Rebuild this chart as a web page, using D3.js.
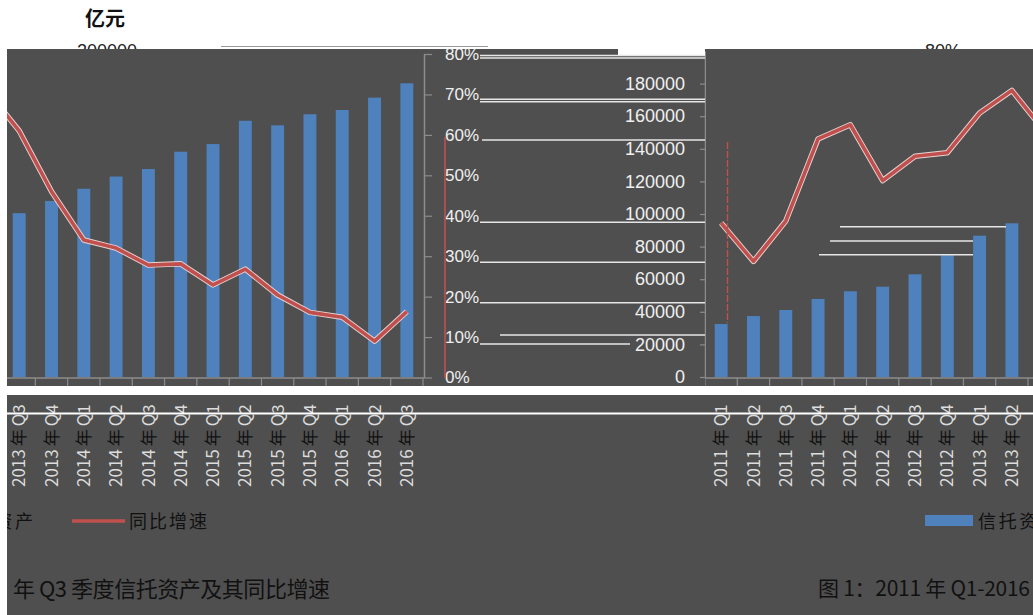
<!DOCTYPE html>
<html><head><meta charset="utf-8">
<script src="https://cdn.jsdelivr.net/npm/d3@7"></script>
<style>body{margin:0;background:#fff;} svg{display:block;font-family:"Noto Sans CJK SC","Noto Sans",sans-serif;}</style>
</head><body><svg id="c" width="1033" height="615"></svg>
<script>
// ---- data ----
const categories = ["2011年Q1","2011年Q2","2011年Q3","2011年Q4","2012年Q1","2012年Q2","2012年Q3","2012年Q4",
  "2013年Q1","2013年Q2","2013年Q3","2013年Q4","2014年Q1","2014年Q2","2014年Q3","2014年Q4",
  "2015年Q1","2015年Q2","2015年Q3","2015年Q4","2016年Q1","2016年Q2","2016年Q3"];
const assets = [32500, 37400, 41100, 47900, 52600, 55400, 63000, 74700, 86700, 94300,
  100500, 108000, 115500, 123000, 127600, 138200, 142900, 157200, 154400, 161200, 163800, 171400, 180200];
const growth = [38.2, 28.7, 38.7, 59.0, 62.5, 48.7, 54.7, 55.6, 65.4, 71.0,
  61.0, 46.0, 34.0, 32.0, 27.8, 28.1, 22.9, 26.8, 20.4, 16.1, 14.9, 9.0, 16.3];
const valueTicks = [0, 20000, 40000, 60000, 80000, 100000, 120000, 140000, 160000, 180000, 200000];
const pctTicks = [0, 0.1, 0.2, 0.3, 0.4, 0.5, 0.6, 0.7, 0.8];
const legendLabels = ["信托资产", "同比增速"];
const titleParts = ["图 1：2011 年 Q1-2016", "年 Q3 季度信托资产及其同比增速"];
const unitLabel = "亿元";

// ---- setup ----
const W = 1033, H = 615, WRAP = 1025, TOP = 49;
const BAR = "#4f81bd", RED = "#c0504d", BG = "#4f4f4f", AX = "#8c8c8c", LT = "#f0f0f0";
const svg = d3.select("#c");
svg.append("rect").attr("width", W).attr("height", H).attr("fill", "#fff");

// top (un-shifted) strip
svg.append("text").attr("x", 85).attr("y", 26).attr("font-size", 20).attr("font-weight", "bold")
  .attr("fill", "#111").text(unitLabel);
svg.append("text").attr("x", 137).attr("y", 57).attr("text-anchor", "end").attr("font-size", 18)
  .attr("fill", "#222").attr("font-family", "Liberation Sans, sans-serif").text(valueTicks[valueTicks.length - 1]);
svg.append("text").attr("x", 925).attr("y", 57).attr("font-size", 18)
  .attr("fill", "#222").attr("font-family", "Liberation Sans, sans-serif").text(d3.format(".0%")(pctTicks[pctTicks.length - 1]));
svg.append("line").attr("x1", 221).attr("x2", 488).attr("y1", 46.5).attr("y2", 46.5)
  .attr("stroke", "#999").attr("stroke-width", 1.2);

const defs = svg.append("defs");
defs.append("clipPath").attr("id", "clipL").append("rect")
  .attr("x", 7).attr("y", TOP).attr("width", 699).attr("height", H - TOP);
defs.append("clipPath").attr("id", "clipR").append("rect")
  .attr("x", 705).attr("y", TOP).attr("width", W - 705).attr("height", H - TOP);

svg.append("rect").attr("x", 7).attr("y", TOP).attr("width", W - 7).attr("height", H - TOP).attr("fill", BG);

const x = d3.scaleBand().domain(categories).range([705, 1448]).paddingInner(0.6).paddingOuter(0.3);
const yV = d3.scaleLinear().domain([0, 200000]).range([377, 51]);
const yP = d3.scaleLinear().domain([0, 0.8]).range([377.5, 54]);
const cx = c => x(c) + x.bandwidth() / 2;

// shift: 0 for the right copy, WRAP for the left copy; only marks that fall in that copy are drawn
function drawContent(g, shift, lo, hi) {
  const idx = d3.range(categories.length).filter(i => {
    const p = cx(categories[i]) - shift; return p >= lo && p <= hi; });

  // bars
  g.selectAll("rect.bar").data(idx).join("rect").attr("class", "bar")
    .attr("x", i => x(categories[i])).attr("y", i => yV(assets[i]))
    .attr("width", x.bandwidth()).attr("height", i => yV(0) - yV(assets[i])).attr("fill", BAR);

  // x axis line + boundary ticks
  const x0 = x.range()[0];
  g.append("line").attr("x1", x0).attr("x2", x.range()[1] + 1).attr("y1", 378).attr("y2", 378)
    .attr("stroke", AX).attr("stroke-width", 1.5);
  g.selectAll("line.xt").data(d3.range(categories.length + 1)).join("line").attr("class", "xt")
    .attr("x1", i => x0 + i * x.step()).attr("x2", i => x0 + i * x.step())
    .attr("y1", 378).attr("y2", 386).attr("stroke", AX).attr("stroke-width", 1.2);

  // growth line
  const line = d3.line().x((d, i) => cx(categories[i])).y(d => yP(d / 100));
  g.append("path").datum(growth).attr("d", line).attr("fill", "none")
    .attr("stroke", "#e9d3d3").attr("stroke-width", 5.5).attr("stroke-linejoin", "round");
  g.append("path").datum(growth).attr("d", line).attr("fill", "none")
    .attr("stroke", RED).attr("stroke-width", 3.6).attr("stroke-linejoin", "round");

  if (shift > 0) {
    // value axis (original left axis) – appears at the wrap seam
    const axV = d3.axisLeft(yV).tickValues(valueTicks).tickSize(5).tickSizeOuter(0).tickPadding(15)
      .tickFormat(d => d === 200000 ? "" : d);
    const gv = g.append("g").attr("transform", `translate(${x0 + WRAP},0)`).call(axV);
    gv.select(".domain").attr("stroke", AX).attr("stroke-width", 1.5);
    gv.selectAll(".tick line").attr("stroke", AX).attr("stroke-width", 1.2);
    gv.selectAll("text").attr("font-size", 18).attr("fill", LT).attr("font-family", "Liberation Sans, sans-serif");

    // percent axis (original right axis)
    const axP = d3.axisRight(yP).tickValues(pctTicks).tickSize(8).tickSizeOuter(0).tickPadding(13)
      .tickFormat(d3.format(".0%"));
    const gp = g.append("g").attr("transform", `translate(${x.range()[1] + 1},0)`).call(axP);
    gp.select(".domain").attr("stroke", AX).attr("stroke-width", 1.5);
    gp.selectAll(".tick line").attr("stroke", AX).attr("stroke-width", 1.2);
    gp.selectAll("text").attr("font-size", 17).attr("fill", LT).attr("font-family", "Liberation Sans, sans-serif");
  }

  // category labels (rotated)
  const lab = g.selectAll("text.cat").data(idx).join("text").attr("class", "cat")
    .attr("transform", i => `translate(${cx(categories[i])},487) rotate(-90)`)
    .attr("dy", "0.36em").attr("font-size", 17).attr("text-anchor", "start");
  lab.append("tspan").attr("fill", "#dcdcdc").text(i => categories[i].split("年")[0]);
  lab.append("tspan").attr("fill", "#111").attr("dx", 3).text("年");
  lab.append("tspan").attr("fill", "#dcdcdc").attr("dx", 3).text(i => categories[i].split("年")[1]);

  // legend (crosses the seam)
  if (shift === 0) g.append("rect").attr("x", 925).attr("y", 515).attr("width", 48).attr("height", 11).attr("fill", BAR);
  g.append("text").attr("x", 978).attr("y", 528).attr("font-size", 18).attr("fill", "#111")
    .attr("textLength", 80).attr("lengthAdjust", "spacing").text(legendLabels[0]);
  if (shift > 0) {
    g.append("line").attr("x1", 1097).attr("x2", 1150).attr("y1", 521).attr("y2", 521)
      .attr("stroke", RED).attr("stroke-width", 3.6);
    g.append("text").attr("x", 1154).attr("y", 528).attr("font-size", 18).attr("fill", "#111")
      .attr("textLength", 78).attr("lengthAdjust", "spacing").text(legendLabels[1]);
    g.append("text").attr("x", 1038).attr("y", 597).attr("font-size", 22).attr("fill", "#111")
      .attr("textLength", 317).attr("lengthAdjust", "spacing").text(titleParts[1]);
  } else {
    g.append("text").attr("x", 818).attr("y", 596).attr("font-size", 21).attr("fill", "#111")
      .attr("textLength", 212).attr("lengthAdjust", "spacing").text(titleParts[0]);
  }
}

const gR = svg.append("g").attr("clip-path", "url(#clipR)").append("g");
drawContent(gR, 0, 705, 1033);
const gL = svg.append("g").attr("clip-path", "url(#clipL)").append("g").attr("transform", `translate(${-WRAP},0)`);
drawContent(gL, WRAP, 7, 705);

// ---- scan artefacts ----
const art = svg.append("g");
art.append("rect").attr("x", 7).attr("y", 386).attr("width", W - 7).attr("height", 9).attr("fill", "#fff");
art.append("rect").attr("x", 7).attr("y", 412.5).attr("width", W - 7).attr("height", 2).attr("fill", "#fff");
art.append("rect").attr("x", 618).attr("y", TOP).attr("width", 87).attr("height", 6).attr("fill", "#fff");
const wl = [[480, 705, 55.5], [480, 705, 58], [480, 705, 99.3], [480, 705, 101.7], [482, 705, 140],
  [480, 705, 222.3], [480, 705, 262.3], [480, 705, 302.7], [500, 705, 335], [480, 630, 344],
  [840, 1006, 226.7], [830, 973, 241], [819, 973, 254.7]];
art.selectAll("line.w").data(wl).join("line").attr("class", "w")
  .attr("x1", d => d[0]).attr("x2", d => d[1]).attr("y1", d => d[2]).attr("y2", d => d[2])
  .attr("stroke", "#e6e6e6").attr("stroke-width", 1.6);
art.append("line").attr("x1", 445).attr("x2", 445).attr("y1", 137).attr("y2", 378)
  .attr("stroke", RED).attr("stroke-width", 1.6);
art.append("line").attr("x1", 727.5).attr("x2", 727.5).attr("y1", 142).attr("y2", 323)
  .attr("stroke", RED).attr("stroke-width", 1.4).attr("stroke-dasharray", "7,2");
</script></body></html>
